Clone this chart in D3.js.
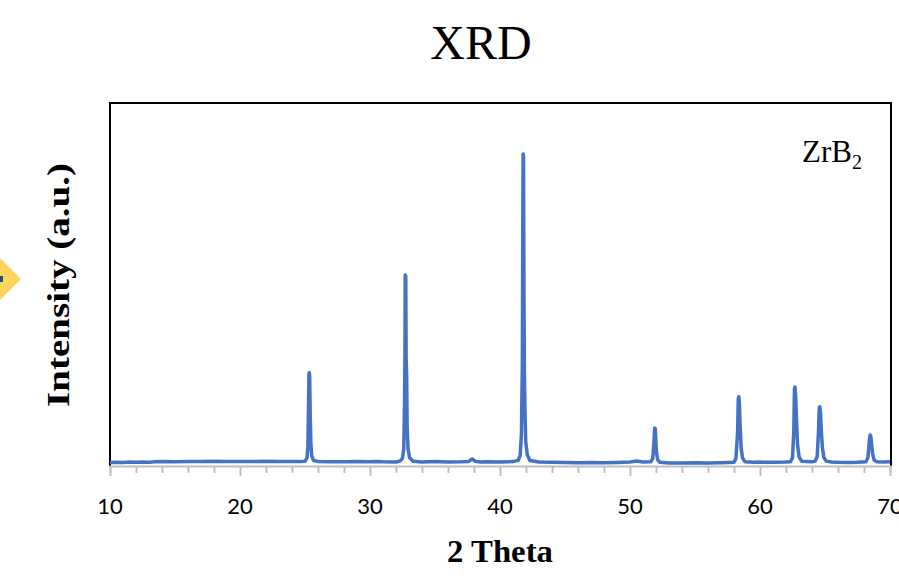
<!DOCTYPE html>
<html>
<head>
<meta charset="utf-8">
<script src="https://cdn.jsdelivr.net/npm/d3@7"></script>
<style>
  body { margin: 0; background: #fff; }
  svg { display: block; }
</style>
</head>
<body>
<svg id="chart" width="899" height="576"></svg>
<script>
// 2 theta positions (deg) and intensities (counts)
var twoTheta = [
  10, 10.5, 11, 11.5, 12, 12.5, 13, 13.5, 14, 15, 16, 17, 18, 19, 20, 21, 22, 23, 24, 24.6,
  25.0, 25.15, 25.22, 25.27, 25.30, 25.33, 25.36, 25.40, 25.45, 25.52, 25.65,
  26, 27, 28, 29, 30, 30.5, 31, 32, 32.3,
  32.5, 32.6, 32.66, 32.69, 32.71, 32.75, 32.78, 32.82, 32.86, 32.93, 33.05, 33.3,
  34, 35, 36, 37, 37.6, 37.85, 38.1, 38.5, 39, 40, 41, 41.4,
  41.55, 41.65, 41.72, 41.75, 41.78, 41.81, 41.84, 41.87, 41.92, 41.98, 42.1, 42.3,
  43, 44, 45, 46, 47, 48, 49, 50, 50.5, 51, 51.6,
  51.75, 51.85, 51.9, 51.94, 51.98, 52.03, 52.12, 52.3,
  53, 54, 55, 56, 57, 58.0,
  58.15, 58.28, 58.33, 58.37, 58.42, 58.47, 58.55, 58.65, 58.85,
  59.5, 60, 61, 62, 62.35,
  62.5, 62.6, 62.65, 62.69, 62.74, 62.8, 62.88, 63.0, 63.2,
  63.6, 64, 64.25,
  64.4, 64.5, 64.56, 64.6, 64.65, 64.72, 64.8, 64.92, 65.1,
  65.5, 66, 67, 67.5, 68.15,
  68.3, 68.42, 68.47, 68.52, 68.58, 68.66, 68.78, 69.0,
  69.5, 70
];
var counts = [
  20, 23, 21, 24, 22, 25, 23, 27, 28, 27, 30, 28, 31, 29, 30, 28, 31, 29, 30, 28,
  32, 55, 150, 480, 750, 765, 730, 420, 180, 75, 38,
  30, 27, 26, 28, 27, 30, 26, 25, 32,
  55, 140, 560, 950, 1575, 1565, 900, 720, 300, 130, 60, 32,
  25, 28, 24, 26, 30, 50, 30, 24, 27, 25, 28, 38,
  80, 260, 850, 1950, 2577, 2560, 1550, 850, 450, 190, 85, 38,
  25, 22, 20, 18, 20, 19, 21, 25, 33, 25, 26,
  55, 200, 307, 303, 220, 110, 45, 22,
  17, 16, 18, 16, 18, 22,
  55, 280, 550, 566, 500, 330, 140, 60, 26,
  22, 24, 22, 24, 27,
  60, 280, 630, 646, 580, 400, 180, 70, 32,
  28, 27, 32,
  70, 280, 475, 483, 440, 280, 140, 60, 32,
  25, 22, 21, 22, 27,
  60, 210, 249, 240, 180, 95, 40, 26,
  24, 26
];
var majorTicks = [10, 20, 30, 40, 50, 60, 70];
var minorTicks = d3.range(10, 71, 2);

var svg = d3.select('#chart');
// (window.top is read-only, so no "top" here)
var plotLeft = 110, plotRight = 890, plotTop = 103, plotBottom = 466;

var x = d3.scaleLinear().domain([10, 70]).range([plotLeft, plotRight]);
var y = d3.scaleLinear().domain([0, 3000]).range([plotBottom - 1, plotTop]);

// little yellow marker on the left edge
svg.append('polygon')
  .attr('points', '0,258 21,279 0,300 -21,279')
  .attr('fill', '#ffd45e');
svg.append('rect')
  .attr('x', 0).attr('y', 276).attr('width', 3).attr('height', 6)
  .attr('fill', '#1f4e79');

svg.append('text')
  .attr('x', 481).attr('y', 59)
  .attr('text-anchor', 'middle')
  .style('font-family', '"Liberation Serif", "Times New Roman", serif')
  .style('font-size', '48px')
  .text('XRD');

// plot box
svg.append('path')
  .attr('d', 'M' + plotLeft + ',' + plotBottom + 'V' + plotTop + 'H' + (plotRight + 1) + 'V' + plotBottom)
  .attr('fill', 'none')
  .attr('stroke', '#000')
  .attr('stroke-width', 2);

// bottom axis: minor ticks every 2, labels every 10
var axis = d3.axisBottom(x).tickValues(minorTicks).tickSize(7).tickFormat('');
var gAxis = svg.append('g')
  .attr('transform', 'translate(0,' + plotBottom + ')')
  .call(axis);
gAxis.select('.domain').attr('stroke', '#bfbfbf').attr('stroke-width', 2);
gAxis.selectAll('.tick line')
  .attr('stroke', '#bfbfbf')
  .attr('stroke-width', 2)
  .attr('y2', function (d) { return d % 10 === 0 ? 10 : 7; });

svg.append('g').selectAll('text')
  .data(majorTicks)
  .enter().append('text')
  .attr('x', function (d) { return x(d); })
  .attr('y', 514)
  .attr('text-anchor', 'middle')
  .style('font-family', 'Lato, "Liberation Sans", sans-serif')
  .style('font-size', '22px')
  .attr('fill', '#000')
  .text(function (d) { return d; });

var line = d3.line()
  .x(function (d) { return x(d); })
  .y(function (d, i) { return y(counts[i]); });

svg.append('path')
  .datum(twoTheta)
  .attr('d', line)
  .attr('fill', 'none')
  .attr('stroke', '#4472c4')
  .attr('stroke-width', 3.5)
  .attr('stroke-linejoin', 'round');

var label = svg.append('text')
  .attr('x', 802).attr('y', 162)
  .style('font-family', '"Liberation Serif", "Times New Roman", serif')
  .style('font-size', '31px');
label.append('tspan').text('ZrB');
label.append('tspan').attr('dy', 7).style('font-size', '20px').text('2');

svg.append('text')
  .attr('x', 500).attr('y', 562)
  .attr('text-anchor', 'middle')
  .attr('textLength', 106)
  .attr('lengthAdjust', 'spacingAndGlyphs')
  .style('font-family', '"Liberation Serif", "Times New Roman", serif')
  .style('font-weight', 'bold')
  .style('font-size', '31px')
  .text('2 Theta');

svg.append('text')
  .attr('transform', 'translate(69,285) rotate(-90)')
  .attr('text-anchor', 'middle')
  .attr('textLength', 244)
  .attr('lengthAdjust', 'spacingAndGlyphs')
  .style('font-family', '"Liberation Serif", "Times New Roman", serif')
  .style('font-weight', 'bold')
  .style('font-size', '31px')
  .text('Intensity (a.u.)');
</script>
</body>
</html>
